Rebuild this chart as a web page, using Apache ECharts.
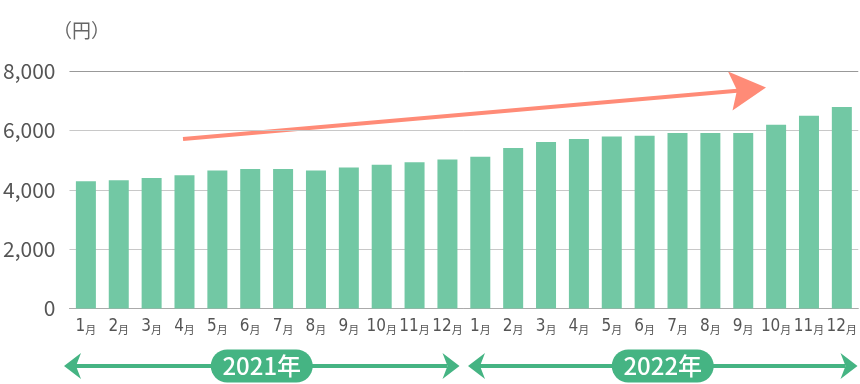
<!DOCTYPE html>
<html>
<head>
<meta charset="utf-8">
<script src="https://cdn.jsdelivr.net/npm/echarts@6/dist/echarts.min.js"></script>
<style>
html,body{margin:0;padding:0;background:#fff;}
#chart{width:860px;height:384px;}
</style>
</head>
<body>
<div id="chart"></div>
<script>
// ---- data ----
const months = ['1','2','3','4','5','6','7','8','9','10','11','12','1','2','3','4','5','6','7','8','9','10','11','12'];
const values2021 = [4290, 4320, 4400, 4490, 4650, 4700, 4700, 4650, 4750, 4840, 4930, 5020];
const values2022 = [5110, 5410, 5610, 5710, 5790, 5820, 5910, 5910, 5910, 6190, 6490, 6790];
const yearLabels = ['2021年', '2022年'];
const yTicks = [0, 2000, 4000, 6000, 8000];
const unitLabel = '（円）';

const categories = months.map((m, i) => m + '月' + (i < 12 ? '' : ' '));
const values = values2021.concat(values2022);

const GREEN = '#45b483';
const SALMON = '#ff8b77';
const BAR = '#72c8a4';

function yearArrow(x0, x1, label, y) {
  const cx = (x0 + x1) / 2;
  return [
    { type: 'line', shape: { x1: x0 + 12, y1: y, x2: x1 - 12, y2: y }, style: { stroke: GREEN, lineWidth: 4 }, silent: true },
    { type: 'polygon', shape: { points: [[x0, y], [x0 + 17, y - 13], [x0 + 12, y], [x0 + 17, y + 13]] }, style: { fill: GREEN }, silent: true },
    { type: 'polygon', shape: { points: [[x1, y], [x1 - 17, y - 13], [x1 - 12, y], [x1 - 17, y + 13]] }, style: { fill: GREEN }, silent: true },
    { type: 'rect', shape: { x: cx - 51, y: y - 16.5, width: 102, height: 33, r: 16.5 }, style: { fill: GREEN }, silent: true },
    { type: 'text', x: cx, y: y, style: { text: label, fill: '#fff', font: '500 24px "Noto Sans CJK JP", Roboto, sans-serif', align: 'center', verticalAlign: 'middle' }, silent: true }
  ];
}

const chart = echarts.init(document.getElementById('chart'), null, { renderer: 'canvas' });

const graphics = [
  { type: 'text', left: 53, top: 21, style: { text: unitLabel, fill: '#666', font: '19px "Noto Sans CJK JP", sans-serif' } },
  { type: 'line', shape: { x1: 183, y1: 139, x2: 740, y2: 90.5 }, style: { stroke: SALMON, lineWidth: 4 }, silent: true },
  { type: 'polygon', shape: { points: [[766, 87.5], [728, 71.5], [737, 90.3], [732.5, 110.5]] }, style: { fill: SALMON }, silent: true }
].concat(yearArrow(64, 459.5, yearLabels[0], 366), yearArrow(468, 857.5, yearLabels[1], 366));

chart.setOption({
  animation: false,
  grid: { left: 68, right: 0, top: 71, bottom: 75.5, containLabel: false },
  xAxis: {
    type: 'category',
    data: categories,
    axisTick: { show: false },
    axisLine: { lineStyle: { color: '#aaa', width: 1 } },
    axisLabel: {
      interval: 0,
      margin: 9,
      formatter: function (v) {
        const n = v.replace(/月.*/, '');
        return '{n|' + n + '}{m|月}';
      },
      rich: {
        n: { fontSize: 17, color: '#555', fontFamily: '"Liberation Sans Narrow", "DejaVu Sans Condensed", Roboto, sans-serif', verticalAlign: 'bottom', lineHeight: 18 },
        m: { fontSize: 11, color: '#555', fontFamily: '"Noto Sans CJK JP", sans-serif', verticalAlign: 'bottom', lineHeight: 18 }
      }
    }
  },
  yAxis: {
    type: 'value',
    min: yTicks[0],
    max: yTicks[yTicks.length - 1],
    interval: yTicks[1] - yTicks[0],
    axisLine: { show: false },
    axisTick: { show: false },
    axisLabel: {
      margin: 14,
      color: '#555',
      fontSize: 21,
      fontFamily: '"Noto Sans CJK JP", Roboto, sans-serif',
      formatter: function (v) { return v.toLocaleString('en-US'); }
    },
    splitLine: { lineStyle: { color: ['#c8c8c8', '#c8c8c8', '#c8c8c8', '#c8c8c8', '#999'], width: 1 } }
  },
  series: [{
    type: 'bar',
    data: values,
    barWidth: 20,
    itemStyle: { color: BAR },
    silent: true
  }],
  graphic: graphics
});
</script>
</body>
</html>
